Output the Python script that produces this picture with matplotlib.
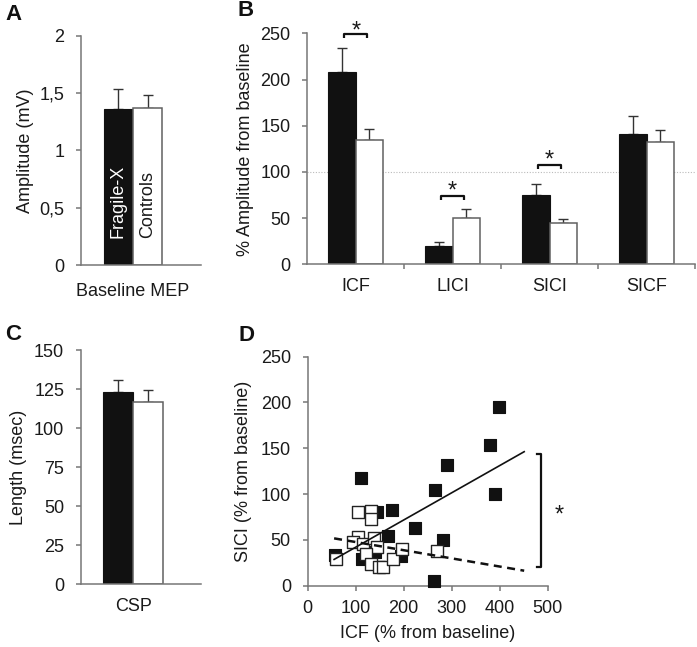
import matplotlib
matplotlib.use("Agg")
import matplotlib.pyplot as plt
import numpy as np

plt.rcParams['font.family'] = ['Liberation Sans', 'DejaVu Sans']
FS = 13
plt.rcParams['font.size'] = FS

# ---------------- data ----------------
groups = ["Fragile-X", "Controls"]
# Panel A
mep_mean = [1.357, 1.372]
mep_err = [0.175, 0.111]
mep_ticks = [0, 0.5, 1, 1.5, 2]
mep_ticklabels = ["0", "0,5", "1", "1,5", "2"]
# Panel B
b_categories = ["ICF", "LICI", "SICI", "SICF"]
b_fx_mean = [208.5, 19.8, 74.7, 141.0]
b_fx_err = [25.3, 4.0, 11.9, 19.5]
b_ct_mean = [134.6, 49.8, 44.4, 132.4]
b_ct_err = [11.4, 9.7, 4.3, 13.3]
b_sig = [0, 1, 2]          # categories with significant difference
b_sig_level = [249, 74, 107.5]
b_star_y = [259, 86, 119]
# Panel C
csp_mean = [123.3, 116.9]
csp_err = [7.5, 7.3]
# Panel D (ICF %, SICI %)
fx_icf = [399, 380, 290, 390, 265, 112, 176, 144, 223, 281, 167, 263, 57, 114, 140, 195]
fx_sici = [195, 154, 132, 100, 104, 118, 83, 80, 63, 50, 54, 5, 33, 29, 37, 32]
ct_icf = [105, 132, 132, 104, 94, 116, 138, 144, 121, 131, 148, 156, 178, 196, 270, 59]
ct_sici = [80, 81.5, 73, 53.5, 48, 45.5, 52, 42, 34.6, 23.7, 20.7, 20, 28.8, 39.7, 38, 29]
fit_x = [55, 451]
fx_fit_y = [28.7, 146.3]
ct_fit_y = [51.7, 16.4]
d_bracket_y = [20, 144]
d_star = (523, 84)

SPINE = "#777777"
TEXT = "#1a1a1a"
EDGE = "#606060"
STAR_FS = 17

fig = plt.figure(figsize=(6.97, 6.47), dpi=100)

def style(ax):
    for s in ["top", "right"]:
        ax.spines[s].set_visible(False)
    for s in ["left", "bottom"]:
        ax.spines[s].set_color(SPINE)
        ax.spines[s].set_linewidth(1.1)
    ax.tick_params(colors=SPINE, labelcolor=TEXT, labelsize=FS, length=3.6, width=1.1, direction="out")
    ax.tick_params(axis="y", pad=8.5)
    ax.tick_params(axis="x", pad=6.5)

def pair_bars(ax, x, means, errs, w):
    ax.bar(x - w / 2, means[0], w, color="#111111", edgecolor="#111111", linewidth=0.8, zorder=2)
    ax.bar(x + w / 2, means[1], w, color="white", edgecolor=EDGE, linewidth=1.1, zorder=2)
    for dx, m, e in [(-w / 2, means[0], errs[0]), (w / 2, means[1], errs[1])]:
        ax.errorbar(x + dx, m, yerr=[[0], [e]], fmt="none", ecolor="#333333",
                    elinewidth=1.0, capsize=3.5, capthick=1.0, zorder=1)

def ylab(ax, text, xpix, ax_left, ax_width):
    ax.set_ylabel(text, color=TEXT, fontsize=FS, va="center")
    ax.yaxis.set_label_coords((xpix - ax_left) / ax_width, 0.5)

def star(ax, x, y):
    # place the asterisk glyph centre at (x, y)
    ax.annotate("*", (x, y), xytext=(0, -0.52 * STAR_FS), textcoords="offset points",
                ha="center", va="baseline", fontsize=STAR_FS, color=TEXT,
                annotation_clip=False)

# ---------------- Panel A ----------------
axA = fig.add_axes([81 / 697, 0.5904, 119.7 / 697, 0.3544])
style(axA)
pair_bars(axA, np.array(0.0), mep_mean, mep_err, 1.0)
axA.set_xlim(-1.79, 2.33)
axA.set_ylim(0, 2)
axA.set_yticks(mep_ticks)
axA.set_yticklabels(mep_ticklabels)
axA.set_xticks([0])
axA.set_xticklabels(["Baseline MEP"])
axA.tick_params(axis="x", length=0, pad=13)
ylab(axA, "Amplitude (mV)", 26, 81, 119.7)
axA.text(-0.5, 0.235, groups[0], rotation=90, rotation_mode="anchor", ha="left", va="center",
         color="white", fontsize=FS)
axA.text(0.5, 0.235, groups[1], rotation=90, rotation_mode="anchor", ha="left", va="center",
         color=TEXT, fontsize=FS)

# ---------------- Panel B ----------------
axB = fig.add_axes([307.3 / 697, 0.5915, 387.7 / 697, 0.357])
style(axB)
xb = np.arange(len(b_categories))
wb = 0.283
for i in xb:
    pair_bars(axB, np.array(float(i)), [b_fx_mean[i], b_ct_mean[i]], [b_fx_err[i], b_ct_err[i]], wb)
axB.axhline(100, color="#bbbbbb", linestyle=(0, (1, 1.5)), linewidth=0.8, zorder=0)
axB.set_xlim(-0.5, 3.5)
axB.set_ylim(0, 250)
axB.set_yticks([0, 50, 100, 150, 200, 250])
axB.set_xticks(np.arange(0.5, 4.0, 1.0))
axB.set_xticklabels([])
axB.set_xticks(xb, minor=True)
axB.set_xticklabels(b_categories, minor=True)
axB.tick_params(axis="x", which="minor", length=0, pad=10, labelcolor=TEXT, labelsize=FS)
ylab(axB, "% Amplitude from baseline", 245, 307.3, 387.7)
for c, lvl, sy in zip(b_sig, b_sig_level, b_star_y):
    axB.plot([c - 0.12, c - 0.12, c + 0.12, c + 0.12], [lvl - 4.5, lvl, lvl, lvl - 4.5],
             color="#111111", linewidth=1.6, clip_on=False, solid_capstyle="butt")
    star(axB, c, sy)

# ---------------- Panel C ----------------
axC = fig.add_axes([81 / 697, 0.0969, 119.7 / 697, 0.3621])
style(axC)
pair_bars(axC, np.array(0.0), csp_mean, csp_err, 1.0)
axC.set_xlim(-1.75, 2.25)
axC.set_ylim(0, 150)
axC.set_yticks([0, 25, 50, 75, 100, 125, 150])
axC.set_xticks([0])
axC.set_xticklabels(["CSP"])
axC.tick_params(axis="x", length=0, pad=9.5)
ylab(axC, "Length (msec)", 18.3, 81, 119.7)

# ---------------- Panel D ----------------
axD = fig.add_axes([307.7 / 697, 0.0947, 240 / 697, 0.354])
style(axD)
axD.scatter(fx_icf, fx_sici, marker="s", s=82, facecolor="#111111", edgecolor="#111111",
            linewidths=0.8, zorder=3, clip_on=False)
axD.scatter(ct_icf, ct_sici, marker="s", s=82, facecolor="white", edgecolor="#222222",
            linewidths=1.0, zorder=4, clip_on=False)
axD.plot(fit_x, fx_fit_y, color="#111111", linewidth=1.2, zorder=5)
axD.plot(fit_x, ct_fit_y, color="#111111", linewidth=1.8, linestyle=(0, (3.2, 2.2)), zorder=5)
axD.set_xlim(0, 500)
axD.set_ylim(0, 250)
axD.set_xticks([0, 100, 200, 300, 400, 500])
axD.set_yticks([0, 50, 100, 150, 200, 250])
axD.set_xlabel("ICF (% from baseline)", color=TEXT, fontsize=FS, labelpad=6)
ylab(axD, "SICI (% from baseline)", 243, 307.7, 240)
bx, bt = 486, 477
axD.plot([bt, bx, bx, bt], [d_bracket_y[0], d_bracket_y[0], d_bracket_y[1], d_bracket_y[1]],
         color="#111111", linewidth=1.6, clip_on=False)
star(axD, d_star[0], d_star[1])

# ---------------- panel letters ----------------
for lbl, x, y in [("A", 13, 14), ("B", 246, 11), ("C", 13, 335), ("D", 246, 335.5)]:
    fig.text(x / 697, 1 - y / 647, lbl, fontsize=16, fontweight="bold", ha="center", va="center",
             color="#111111")

fig.savefig("out.png", dpi=100)
